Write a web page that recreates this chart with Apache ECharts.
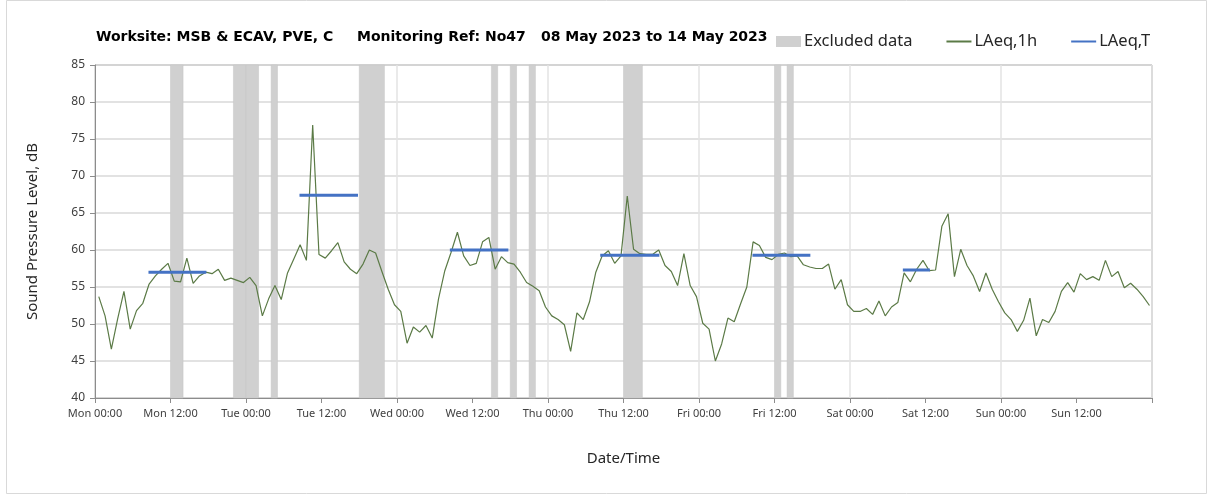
<!DOCTYPE html>
<html>
<head>
<meta charset="utf-8">
<title>Noise monitoring No47</title>
<script src="https://cdn.jsdelivr.net/npm/echarts@6/dist/echarts.min.js"></script>
<style>
  * { margin: 0; padding: 0; }
  html, body { width: 1208px; height: 495px; background: #fff; }
  #chart { width: 1208px; height: 495px; }
</style>
</head>
<body>
<!-- chart container -->
<div id="chart"></div>
<script>
  // hourly LAeq,1h values, Mon 00:00 -> Sun 24:00
  var laeq1h = [
    53.7, 51.1, 46.6, 50.7, 54.4, 49.3, 51.8, 52.8, 55.4, 56.5,
    57.4, 58.2, 55.8, 55.7, 58.9, 55.5, 56.5, 57.0, 56.8, 57.4,
    55.9, 56.2, 55.9, 55.6, 56.3, 55.2, 51.1, 53.4, 55.2, 53.3,
    56.9, 58.8, 60.7, 58.6, 76.9, 59.4, 58.9, 59.9, 61.0, 58.4,
    57.4, 56.8, 58.1, 60.0, 59.6, 57.1, 54.7, 52.6, 51.7, 47.4,
    49.6, 48.9, 49.8, 48.1, 53.4, 57.2, 59.7, 62.4, 59.2, 57.9,
    58.2, 61.1, 61.7, 57.4, 59.1, 58.3, 58.1, 57.0, 55.6, 55.1,
    54.5, 52.3, 51.1, 50.6, 49.9, 46.3, 51.5, 50.6, 53.0, 57.0,
    59.2, 59.9, 58.2, 59.2, 67.3, 60.1, 59.5, 59.4, 59.4, 60.0,
    57.9, 57.1, 55.2, 59.5, 55.2, 53.7, 50.1, 49.3, 45.0, 47.3,
    50.8, 50.3, 52.7, 55.0, 61.1, 60.6, 59.0, 58.7, 59.4, 59.6,
    59.1, 59.2, 58.0, 57.7, 57.5, 57.5, 58.1, 54.7, 56.0, 52.6,
    51.7, 51.7, 52.1, 51.3, 53.1, 51.1, 52.3, 52.9, 56.9, 55.7,
    57.4, 58.6, 57.2, 57.3, 63.2, 64.9, 56.4, 60.1, 57.9, 56.5,
    54.4, 56.9, 54.7, 53.0, 51.5, 50.6, 49.0, 50.5, 53.5, 48.4,
    50.6, 50.2, 51.7, 54.4, 55.6, 54.3, 56.8, 56.0, 56.4, 55.9,
    58.6, 56.4, 57.1, 54.9, 55.5, 54.7, 53.7, 52.5
  ];

  // daytime LAeq,T periods (hours from Mon 00:00) and levels
  var periodStart = [8.5, 32.5, 56.4, 80.3, 104.5, 128.4];
  var periodEnd = [17.7, 41.8, 65.7, 89.7, 113.7, 132.7];
  var laeqT = [57.0, 67.4, 60.0, 59.3, 59.3, 57.3];

  // excluded data windows (hours from Mon 00:00)
  var excluded = [
    [12, 14], [22, 24], [24, 26], [28, 29], [42, 46], [63, 64],
    [66, 67], [69, 70], [84, 87], [108, 109], [110, 111]
  ];

  var dayNames = ['Mon', 'Tue', 'Wed', 'Thu', 'Fri', 'Sat', 'Sun'];
  var tickTimes = ['00:00', '12:00'];

  var hourlyData = laeq1h.map(function (v, i) { return [i + 0.6, v]; });

  var periodData = [];
  laeqT.forEach(function (v, i) {
    periodData.push([periodStart[i], v]);
    periodData.push([periodEnd[i], v]);
    periodData.push([periodEnd[i], null]);
  });

  var excludedAreas = excluded.map(function (e) {
    return [{ xAxis: e[0] }, { xAxis: e[1] }];
  });

  var font = 'Noto Sans';
  var titleStyle = { fontSize: 14, fontWeight: 'bold', color: '#000', fontFamily: 'DejaVu Sans' };
  var chart = echarts.init(document.getElementById('chart'));
  chart.setOption({
    animation: false,
    backgroundColor: '#fff',
    textStyle: { fontFamily: font },
    title: [
      { text: 'Worksite: MSB & ECAV, PVE, C', left: 96, top: 30, padding: 0, textStyle: titleStyle },
      { text: 'Monitoring Ref: No47', left: 357, top: 30, padding: 0, textStyle: titleStyle },
      { text: '08 May 2023 to 14 May 2023', left: 541, top: 30, padding: 0, textStyle: titleStyle }
    ],
    legend: {
      left: 776,
      top: 33,
      padding: 0,
      itemWidth: 25,
      itemHeight: 11,
      itemGap: 33,
      textStyle: { fontSize: 16.5, color: '#262626', fontFamily: font, padding: [0, 0, 0, -2] },
      data: [
        { name: 'Excluded data', icon: 'rect' },
        { name: 'LAeq,1h', itemStyle: { opacity: 0 } },
        { name: 'LAeq,T', itemStyle: { opacity: 0 } }
      ]
    },
    graphic: [
      { type: 'rect', shape: { x: 6.5, y: 0.5, width: 1200, height: 493 },
        style: { fill: 'none', stroke: '#d9d9d9', lineWidth: 1 }, silent: true }
    ],
    grid: {
      left: 95, right: 56, top: 65, bottom: 97,
      show: true, borderColor: '#8c8c8c', borderWidth: 1
    },
    xAxis: [
      {
        type: 'value', min: 0, max: 168, interval: 12,
        name: 'Date/Time', nameLocation: 'middle', nameGap: 53,
        nameTextStyle: { fontSize: 15, color: '#262626', fontFamily: font },
        axisLine: { lineStyle: { color: '#8c8c8c' } },
        axisTick: { show: true, length: 5, lineStyle: { color: '#8c8c8c' } },
        splitLine: { show: false },
        axisLabel: {
          fontSize: 11, color: '#404040', margin: 10, fontFamily: font,
          formatter: function (v) {
            if (v >= 168) return '';
            return dayNames[Math.floor(v / 24)] + ' ' + tickTimes[(v % 24) / 12];
          }
        }
      },
      {
        type: 'value', min: 0, max: 168, interval: 24, position: 'bottom',
        axisLine: { show: false }, axisTick: { show: false }, axisLabel: { show: false },
        splitLine: { show: true, lineStyle: { color: '#e3e3e3', width: 1.5 } }
      }
    ],
    yAxis: {
      type: 'value', min: 40, max: 85, interval: 5,
      name: 'Sound Pressure Level, dB', nameLocation: 'middle', nameGap: 55,
      nameTextStyle: { fontSize: 15, color: '#262626', fontFamily: font },
      axisLine: { show: true, lineStyle: { color: '#8c8c8c' } },
      axisTick: { show: true, length: 5, lineStyle: { color: '#8c8c8c' } },
      splitLine: { show: true, lineStyle: { color: '#d9d9d9', width: 1.5 } },
      axisLabel: { fontSize: 12, color: '#404040', margin: 10, fontFamily: font }
    },
    series: [
      {
        name: 'Excluded data', type: 'line', data: [],
        itemStyle: { color: '#d0d0d0' },
        markArea: {
          silent: true,
          itemStyle: { color: '#d0d0d0', borderColor: '#c4c4c4', borderWidth: 0.5 },
          data: excludedAreas
        }
      },
      {
        name: 'LAeq,1h', type: 'line', data: hourlyData,
        symbol: 'none', z: 3,
        itemStyle: { color: '#5b7a46' },
        lineStyle: { color: '#5b7a46', width: 1.2 }
      },
      {
        name: 'LAeq,T', type: 'line', data: periodData,
        symbol: 'none', z: 4, connectNulls: false,
        itemStyle: { color: '#4472c4' },
        lineStyle: { color: '#4472c4', width: 3 }
      }
    ]
  });
</script>
</body>
</html>
